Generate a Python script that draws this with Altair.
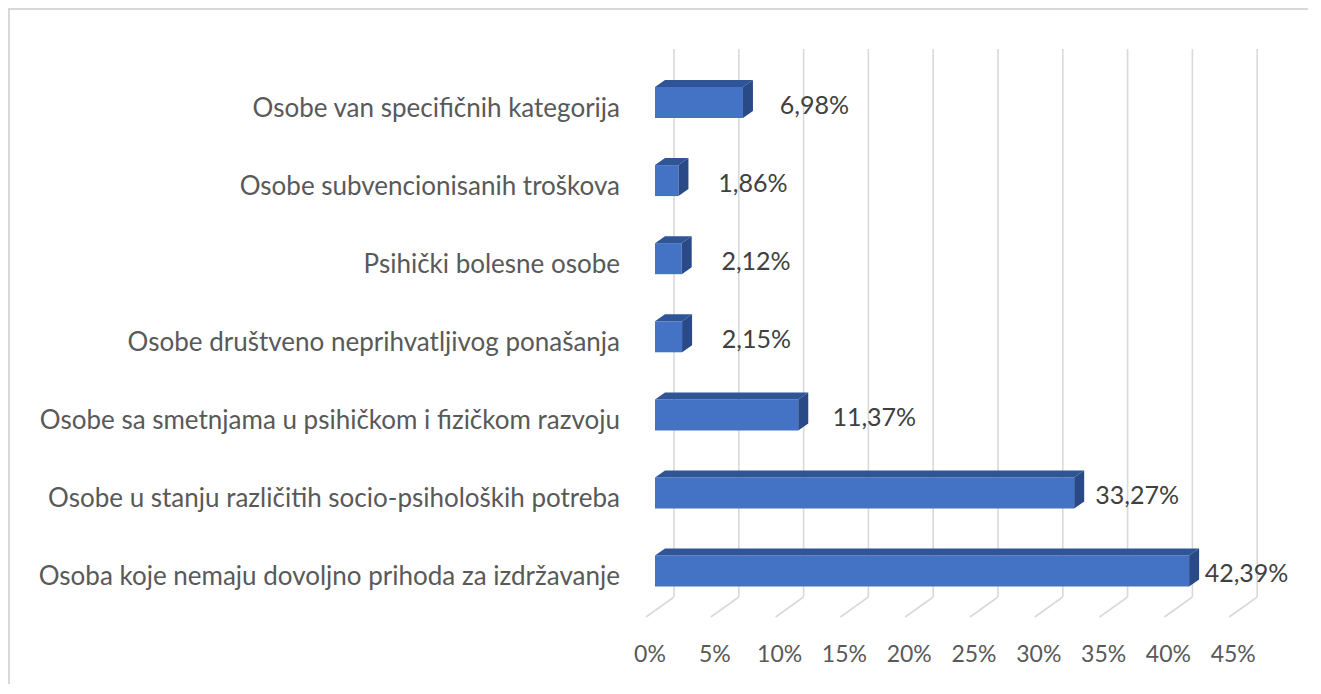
import altair as alt
import pandas as pd

# ---------------- data ----------------
categories = [
    "Osobe van specifičnih kategorija",
    "Osobe subvencionisanih troškova",
    "Psihički bolesne osobe",
    "Osobe društveno neprihvatljivog ponašanja",
    "Osobe sa smetnjama u psihičkom i fizičkom razvoju",
    "Osobe u stanju različitih socio-psiholoških potreba",
    "Osoba koje nemaju dovoljno prihoda za izdržavanje",
]
values = [6.98, 1.86, 2.12, 2.15, 11.37, 33.27, 42.39]
value_labels = ["6,98%", "1,86%", "2,12%", "2,15%", "11,37%", "33,27%", "42,39%"]
ticks = [0, 5, 10, 15, 20, 25, 30, 35, 40, 45]
tick_labels = ["0%", "5%", "10%", "15%", "20%", "25%", "30%", "35%", "40%", "45%"]

# ---------------- geometry / style ----------------
W, H = 1300, 676
FRONT0, FRONT_PX = 647, 12.6      # front plane of the bars
BACK0, BACK_PX = 666, 12.96       # back wall (gridlines)
LAB0, LAB_PX = 688, 12.0          # data-label placement
Y_TOP, Y_STEP = 94.5, 78.1
BAR_HALF = 15.5 / Y_STEP
DEPTH_X = 10 / FRONT_PX
DEPTH_Y = 7 / Y_STEP
FLOOR_DX = 28 / BACK_PX

FONT = "Lato"
GREY = "#595959"
DARK = "#404040"

xf = alt.Scale(domain=[0, 45], range=[FRONT0, FRONT0 + 45 * FRONT_PX], nice=False, zero=False)
xg = alt.Scale(domain=[0, 45], range=[BACK0, BACK0 + 45 * BACK_PX], nice=False, zero=False)
xl = alt.Scale(domain=[0, 45], range=[LAB0, LAB0 + 45 * LAB_PX], nice=False, zero=False)
ys = alt.Scale(domain=[0, 6], range=[Y_TOP, Y_TOP + 6 * Y_STEP], nice=False, zero=False)

# ---------------- tables ----------------
bars = pd.DataFrame({
    "cat": categories,
    "v": values,
    "lab": value_labels,
    "i": list(range(len(categories))),
})
bars["zero"] = 0.0
bars["y0"] = bars["i"] - BAR_HALF
bars["y1"] = bars["i"] + BAR_HALF

top_rows, side_rows = [], []
for c, v, i in zip(categories, values, range(len(categories))):
    top_rows.append({"cat": c, "y": i - BAR_HALF, "xa": 0.0, "xb": v})
    top_rows.append({"cat": c, "y": i - BAR_HALF - DEPTH_Y, "xa": DEPTH_X, "xb": v + DEPTH_X})
    side_rows.append({"cat": c, "x": v, "ya": i - BAR_HALF, "yb": i + BAR_HALF})
    side_rows.append({"cat": c, "x": v + DEPTH_X, "ya": i - BAR_HALF - DEPTH_Y, "yb": i + BAR_HALF - DEPTH_Y})
top_df = pd.DataFrame(top_rows)
side_df = pd.DataFrame(side_rows)

tick_df = pd.DataFrame({"t": ticks, "label": tick_labels})
tick_df["t2"] = tick_df["t"] - FLOOR_DX

one = pd.DataFrame({"a": [0]})

# ---------------- layers ----------------
grid_v = alt.Chart(tick_df).mark_rule(color="#d9d9d9", strokeWidth=1.6).encode(
    x=alt.X("t:Q", scale=xg, axis=None),
    y=alt.value(41), y2=alt.value(589),
)
grid_d = alt.Chart(tick_df).mark_rule(color="#d9d9d9", strokeWidth=1.6).encode(
    x=alt.X("t:Q", scale=xg, axis=None), x2="t2:Q",
    y=alt.value(589), y2=alt.value(609),
)
tick_text = alt.Chart(tick_df).mark_text(
    font=FONT, fontSize=23, color=GREY, dx=-24, baseline="middle"
).encode(
    x=alt.X("t:Q", scale=xg, axis=None),
    y=alt.value(647),
    text="label:N",
)

front = alt.Chart(bars).mark_rect(color="#4472C4").encode(
    x=alt.X("zero:Q", scale=xf, axis=None), x2="v:Q",
    y=alt.Y("y0:Q", scale=ys, axis=None), y2="y1:Q",
)
top = alt.Chart(top_df).mark_area(orient="horizontal", color="#2F5597").encode(
    y=alt.Y("y:Q", scale=ys, axis=None),
    x=alt.X("xa:Q", scale=xf, axis=None, stack=None), x2="xb:Q",
    detail="cat:N",
)
side = alt.Chart(side_df).mark_area(orient="vertical", color="#294A86").encode(
    x=alt.X("x:Q", scale=xf, axis=None),
    y=alt.Y("ya:Q", scale=ys, axis=None, stack=None), y2="yb:Q",
    detail="cat:N",
)
cat_text = alt.Chart(bars).mark_text(
    font=FONT, fontSize=26, color=GREY, align="right", baseline="middle", dy=6
).encode(
    x=alt.value(612),
    y=alt.Y("i:Q", scale=ys, axis=None),
    text="cat:N",
)
val_text = alt.Chart(bars).mark_text(
    font=FONT, fontSize=25, color=DARK, align="left", baseline="middle", dy=3
).encode(
    x=alt.X("v:Q", scale=xl, axis=None),
    y=alt.Y("i:Q", scale=ys, axis=None),
    text="lab:N",
)
border_l = alt.Chart(one).mark_rule(color="#d9d9d9", strokeWidth=2).encode(
    x=alt.value(1), y=alt.value(0), y2=alt.value(H)
)
border_t = alt.Chart(one).mark_rule(color="#d9d9d9", strokeWidth=2).encode(
    y=alt.value(1), x=alt.value(0), x2=alt.value(W)
)

chart = alt.layer(
    border_l, border_t, grid_v, grid_d, tick_text, front, top, side, cat_text, val_text
).resolve_scale(x="independent").properties(
    width=W, height=H, padding=0, autosize=alt.AutoSizeParams(type="none")
).configure_view(stroke=None).configure(background="white")

chart.save("out.html", embed_options={"renderer": "svg", "actions": False})
